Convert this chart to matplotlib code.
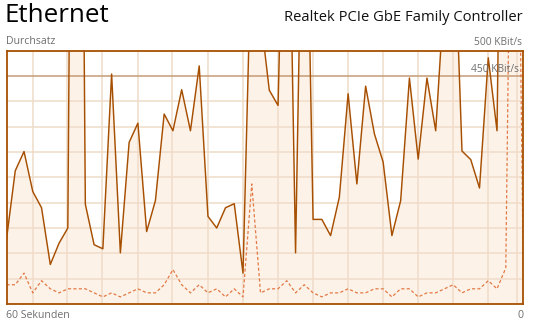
import numpy as np
import matplotlib.pyplot as plt

# Durchsatz in KBit/s, ein Wert pro Sekunde (60 Werte, links = 60 s, rechts = 0)
empfangen = [128, 263, 301, 222, 190, 78, 120, 150, 2500, 197,
             117, 109, 454, 101, 319, 357, 143, 204, 375, 342,
             423, 342, 470, 173, 150, 190, 198, 61, 740, 570,
             422, 392, 1100, 101, 1100, 167, 167, 135, 211, 415,
             237, 430, 336, 280, 135, 204, 446, 286, 446, 342,
             620, 800, 302, 285, 229, 486, 342, 1700, 2000, 1500]
senden = [38, 38, 61, 22, 46, 30, 22, 30, 30, 30,
          22, 14, 22, 14, 22, 30, 22, 22, 38, 68,
          38, 22, 38, 22, 30, 14, 30, 14, 237, 22,
          30, 30, 46, 22, 38, 22, 14, 22, 22, 30,
          22, 22, 30, 30, 14, 30, 30, 14, 22, 22,
          30, 38, 22, 30, 30, 46, 30, 71, 1500, 55]

y_max = 500
skala = 450
titel = "Ethernet"
adapter = "Realtek PCIe GbE Family Controller"

W, H = 537, 329
fig = plt.figure(figsize=(W / 100, H / 100), dpi=100)
plt.rcParams['font.family'] = ['Open Sans', 'DejaVu Sans']

# Achse in Pixelkoordinaten
l, r, t, b = 6.5, 523.3, 50.7, 304.0
ax = fig.add_axes([l / W, 1 - b / H, (r - l) / W, (b - t) / H])

linie = '#a74f01'
fuellung = '#fcf2e8'
gitter = '#efdcc9'
grau = '#6f6f6f'

x = np.arange(len(empfangen))
ax.set_xlim(0, len(empfangen) - 1)
ax.set_ylim(0, y_max)

ax.fill_between(x, empfangen, 0, color=fuellung, lw=0, zorder=1)

# Gitter (scrollt in Task-Manager mit, daher versetzt)
for gx in [2.97, 6.96, 10.95, 14.96, 18.95, 22.95, 27.0, 31.0, 35.0, 39.0,
           42.98, 46.98, 50.97, 54.97, 58.25]:
    ax.axvline(gx, color=gitter, lw=1.1, zorder=2)
for gy in range(50, y_max, 50):
    if gy != skala:
        ax.axhline(gy, color=gitter, lw=1.1, zorder=2)
ax.axhline(skala, color='#c9a27f', lw=1.2, zorder=2)

ax.plot(x, senden, color='#e37a45', lw=0.9, ls=(0, (2.5, 1.8)), zorder=3)
ax.plot(x, empfangen, color=linie, lw=1.05, zorder=4)

ax.set_xticks([])
ax.set_yticks([])
for s in ax.spines.values():
    s.set_color(linie)
    s.set_linewidth(1.3)
    s.set_zorder(5)

def txt(px, py, s, **kw):
    fig.text(px / W, 1 - py / H, s, va='baseline', **kw)

txt(4.5, 21.7, titel, fontsize=18.6, color='black')
txt(522.5, 21.0, adapter, fontsize=10.6, color='#111111', ha='right')
txt(6.3, 44.3, "Durchsatz", fontsize=7.6, color=grau)
txt(522.5, 45.0, "%d KBit/s" % y_max, fontsize=7.4, color=grau, ha='right')
txt(6.3, 318.3, "60 Sekunden", fontsize=7.6, color=grau)
txt(523.0, 318.3, "0", fontsize=7.6, color=grau, ha='right')
ax.text(0.9925, skala + 8, "%d KBit/s" % skala, transform=ax.get_yaxis_transform(),
        fontsize=7.4, color=grau, ha='right', va='baseline', zorder=6)

fig.savefig('out.png', dpi=100)
